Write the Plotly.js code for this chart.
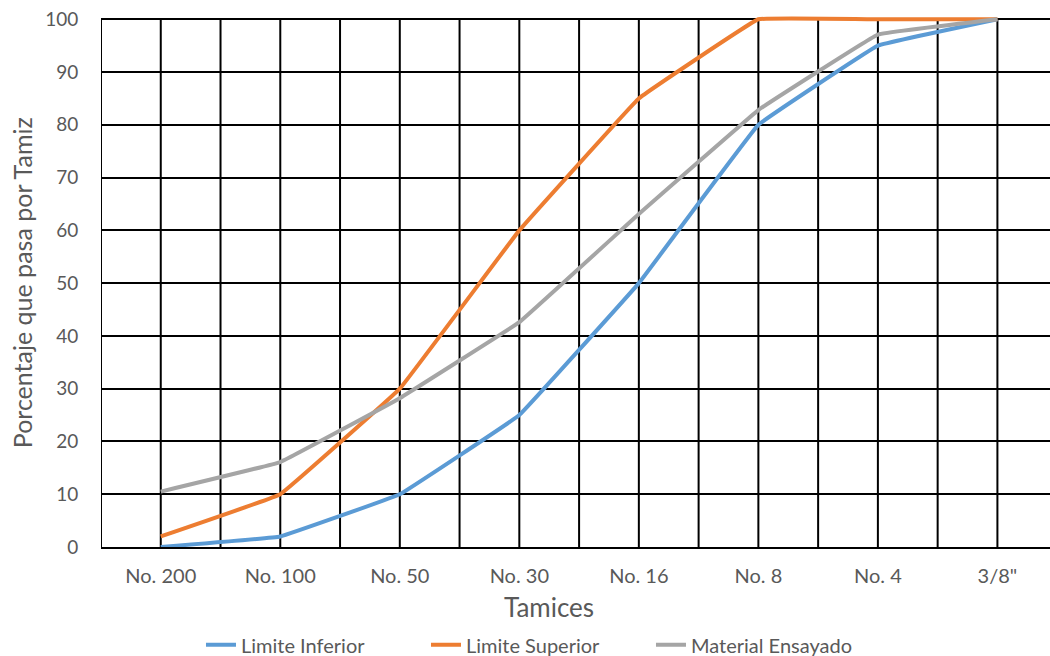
<!DOCTYPE html>
<html>
<head>
<meta charset="utf-8">
<script src="https://cdn.plot.ly/plotly-3.0.1.min.js"></script>
<style>
  html, body { margin: 0; padding: 0; background: #fff; overflow: hidden; }
  #chart { width: 1050px; height: 656px; }
</style>
</head>
<body>
<div id="chart"></div>
<script>
// Tamices (sieves), from fine to coarse
const tamices = ["No. 200", "No. 100", "No. 50", "No. 30", "No. 16", "No. 8", "No. 4", "3/8\""];

// Percent passing each sieve
const limiteInferior   = [0, 2, 10, 25, 50, 80, 95, 100];
const limiteSuperior   = [2, 10, 30, 60, 85, 100, 100, 100];
const materialEnsayado = [10.5, 16.1, 28.2, 42.6, 63.1, 82.8, 97.1, 100];

const yTicks = [0, 10, 20, 30, 40, 50, 60, 70, 80, 90, 100];

const idx = tamices.map((_, i) => i);
const textGray = "#595959";
const font = "Lato, Open Sans, sans-serif";

function serie(name, values, color) {
  return {
    type: "scatter",
    mode: "lines",
    name: name,
    x: idx,
    y: values,
    line: { color: color, width: 4, shape: "spline", smoothing: 0.15 },
    hoverinfo: "skip"
  };
}

const data = [
  serie("Limite Inferior", limiteInferior, "#5B9BD5"),
  serie("Limite Superior", limiteSuperior, "#ED7D31"),
  serie("Material Ensayado", materialEnsayado, "#A5A5A5")
];

// Vertical grid: a line between and on each category
const gridShapes = [];
for (let k = -1; k < 2 * tamices.length; k++) {
  const xv = k / 2;
  gridShapes.push({
    type: "line", layer: "below",
    xref: "x", yref: "y",
    x0: xv, x1: xv, y0: 0, y1: 100,
    line: { color: "#000", width: 2 }
  });
}

const layout = {
  width: 1050,
  height: 656,
  paper_bgcolor: "#fff",
  plot_bgcolor: "#fff",
  margin: { l: 101, r: 0, t: 14, b: 109 },
  showlegend: true,
  xaxis: {
    type: "linear",
    range: [-0.5, 7.44],
    tickvals: idx,
    ticktext: tamices,
    showgrid: false,
    zeroline: false,
    showline: true,
    linecolor: "#000",
    linewidth: 2,
    ticks: "outside",
    ticklen: 10,
    tickcolor: "rgba(0,0,0,0)",
    tickfont: { family: font, size: 20, color: textGray },
    fixedrange: true
  },
  yaxis: {
    range: [0, 101],
    tickvals: yTicks,
    showgrid: true,
    gridcolor: "#000",
    gridwidth: 2,
    zeroline: false,
    showline: false,
    ticks: "outside",
    ticklen: 18,
    tickcolor: "rgba(0,0,0,0)",
    tickfont: { family: font, size: 19, color: textGray },
    fixedrange: true
  },
  shapes: gridShapes,
  annotations: [
    {
      text: "Tamices",
      xref: "paper", yref: "paper",
      x: 0.472, y: -0.1125,
      xanchor: "center", yanchor: "middle",
      showarrow: false,
      font: { family: font, size: 26, color: textGray }
    },
    {
      text: "Porcentaje que pasa por Tamiz",
      xref: "paper", yref: "paper",
      x: -0.0832, y: 0.495,
      xanchor: "center", yanchor: "middle",
      textangle: -90,
      showarrow: false,
      font: { family: font, size: 25, color: textGray }
    }
  ],
  legend: {
    orientation: "h",
    xref: "paper", yref: "container",
    x: 0.461, xanchor: "center",
    y: 0.017, yanchor: "middle",
    entrywidth: 180,
    font: { family: font, size: 20, color: textGray },
    bgcolor: "rgba(0,0,0,0)"
  }
};

Plotly.newPlot("chart", data, layout, { staticPlot: true, displayModeBar: false });
</script>
</body>
</html>
